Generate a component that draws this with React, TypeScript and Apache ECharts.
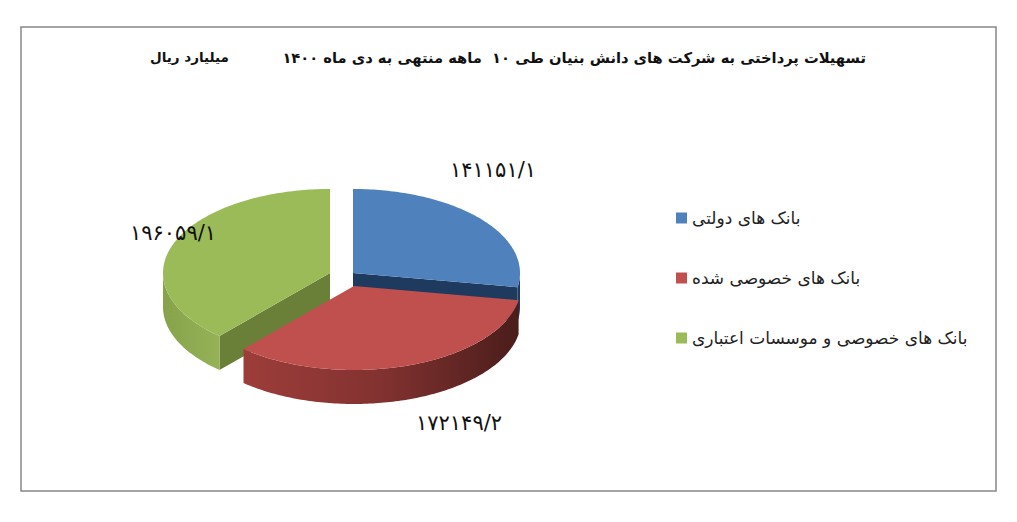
import React, { useEffect, useRef } from "react";
import * as echarts from "echarts";

const categories = ["بانک های دولتی", "بانک های خصوصی شده", "بانک های خصوصی و موسسات اعتباری"];
const seriesValues = [141151.1, 172149.2, 196059.1];
const topColors = ["#4F81BD", "#C0504D", "#9BBB59"];
const faceColors = ["#1F3A5F", "#5A2220", "#6A8038"];
const wallStops = [
  ["#1F3A5F", "#1F3A5F", "#1F3A5F"],
  ["#9D3D3A", "#823230", "#4A1D1B"],
  ["#86A24A", "#8FAB51", "#95B257"],
];
const titleMain = "تسهیلات پرداختی به شرکت های دانش بنیان طی ۱۰  ماهه منتهی به دی ماه ۱۴۰۰";
const titleUnit = "میلیارد ریال";

const FONT = '"DejaVu Sans", sans-serif';
const RX = 167;
const RY = 84;
const DEPTH = 34;
const CENTERS = [
  [353, 273],
  [354, 286],
  [330, 273],
];
const LABEL_POS = [
  [493, 170],
  [459, 423],
  [173, 233],
];
const Z = [2, 4, 3];

const toFa = (v: number) =>
  v.toFixed(1).replace(".", "/").replace(/\d/g, (d) => "۰۱۲۳۴۵۶۷۸۹"[Number(d)]);

const total = seriesValues.reduce((a, b) => a + b, 0);
const rad = (deg: number) => (deg * Math.PI) / 180;

function arc(cx: number, cy: number, a0: number, a1: number) {
  const pts: number[][] = [];
  const n = Math.max(2, Math.ceil(Math.abs(a1 - a0)));
  for (let k = 0; k <= n; k++) {
    const a = rad(a0 + ((a1 - a0) * k) / n);
    pts.push([cx + RX * Math.sin(a), cy - RY * Math.cos(a)]);
  }
  return pts;
}

function face(cx: number, cy: number, a: number, fill: string) {
  const r = arc(cx, cy, a, a)[0];
  return {
    type: "polygon",
    shape: { points: [[cx, cy], r, [r[0], r[1] + DEPTH], [cx, cy + DEPTH]] },
    style: { fill },
  };
}

function wedge(i: number) {
  const before = seriesValues.slice(0, i).reduce((a, b) => a + b, 0);
  const a0 = (before / total) * 360;
  const a1 = ((before + seriesValues[i]) / total) * 360;
  const [cx, cy] = CENTERS[i];
  const children: any[] = [];
  if (a0 > 180 && a0 < 360) children.push(face(cx, cy, a0, faceColors[i]));
  if (a1 > 0 && a1 < 180) children.push(face(cx, cy, a1, faceColors[i]));
  const w0 = Math.max(a0, 90);
  const w1 = Math.min(a1, 270);
  if (w1 > w0) {
    const top = arc(cx, cy, w0, w1);
    const bottom = top.map((p) => [p[0], p[1] + DEPTH]).reverse();
    const stops = wallStops[i];
    children.push({
      type: "polygon",
      shape: { points: [...top, ...bottom] },
      style: {
        fill: new echarts.graphic.LinearGradient(0, 0, 1, 0, [
          { offset: 0, color: stops[0] },
          { offset: 0.5, color: stops[1] },
          { offset: 1, color: stops[2] },
        ]),
      },
    });
  }
  children.push({
    type: "polygon",
    shape: { points: [[cx, cy], ...arc(cx, cy, a0, a1)] },
    style: { fill: topColors[i] },
  });
  const [lx, ly] = LABEL_POS[i];
  children.push({
    type: "text",
    z2: 100,
    style: {
      text: toFa(seriesValues[i]),
      x: lx,
      y: ly,
      align: "center",
      verticalAlign: "middle",
      fill: "#111",
      font: `21px ${FONT}`,
    },
  });
  return children;
}

export default function App() {
  const ref = useRef<HTMLDivElement>(null);
  useEffect(() => {
    document.body.style.margin = "0";
    document.body.style.background = "#fff";
    const chart = echarts.init(ref.current!, null, { renderer: "svg" });
    chart.setOption({
      animation: false,
      backgroundColor: "#fff",
      title: [
        {
          text: titleMain,
          right: 1017 - 866,
          top: 50,
          padding: 0,
          textStyle: { fontFamily: FONT, fontSize: 14.7, fontWeight: "bold", color: "#111" },
        },
        {
          text: titleUnit,
          left: 150,
          top: 50,
          padding: 0,
          textStyle: { fontFamily: FONT, fontSize: 13.5, fontWeight: "bold", color: "#111" },
        },
      ],
      legend: {
        orient: "vertical",
        left: 676,
        top: 208,
        padding: 0,
        itemWidth: 11,
        itemHeight: 11,
        itemGap: 40,
        icon: "rect",
        selectedMode: false,
        data: categories,
        textStyle: { fontFamily: FONT, fontSize: 17, color: "#222", lineHeight: 20 },
      },
      graphic: [
        {
          type: "rect",
          z: -1,
          shape: { x: 21, y: 27, width: 975, height: 464 },
          style: { fill: "#fff", stroke: "#868686", lineWidth: 1.5 },
        },
      ],
      series: categories.map((name, i) => ({
        type: "custom",
        name,
        coordinateSystem: "none",
        z: Z[i],
        itemStyle: { color: topColors[i] },
        data: [seriesValues[i]],
        renderItem: () => ({ type: "group", children: wedge(i) }),
      })),
    });
    return () => chart.dispose();
  }, []);
  return <div ref={ref} style={{ width: 1017, height: 522 }} />;
}
